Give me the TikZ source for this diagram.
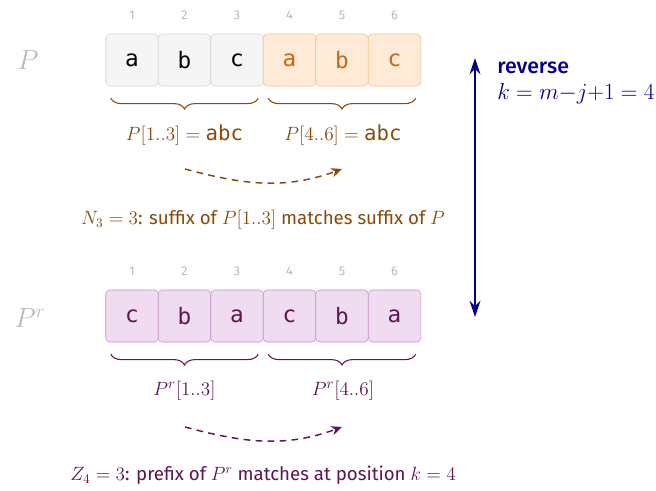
\documentclass[tikz,border=0pt]{standalone}
\usepackage{fontspec}
\setmainfont{Fira Sans}
\setmonofont{DejaVu Sans Mono}
\newfontfamily\medfont{Fira Sans Medium}
\usetikzlibrary{positioning, arrows.meta, decorations.pathreplacing}
\definecolor{CellGray}{RGB}{245,245,245}
\definecolor{CellGrayLine}{RGB}{212,212,212}
\definecolor{CellOrange}{RGB}{254,234,214}
\definecolor{CellOrangeLine}{RGB}{250,192,130}
\definecolor{OrangeText}{RGB}{196,104,20}
\definecolor{BraceBrown}{RGB}{135,74,10}
\definecolor{CellPurple}{RGB}{240,220,240}
\definecolor{CellPurpleLine}{RGB}{200,140,200}
\definecolor{PurpleText}{RGB}{95,20,85}
\definecolor{IndexGray}{RGB}{185,185,185}
\definecolor{RevBlue}{RGB}{0,0,140}

\begin{document}
\begin{tikzpicture}[x=0.75pt, y=-0.75pt, font=\fontsize{14}{16}\selectfont]
    \tikzset{
        cell/.style={rectangle, rounded corners=3pt, minimum width=39.4pt,
            minimum height=39pt, inner sep=0pt, font=\fontsize{17}{19}\selectfont\ttfamily},
        graycell/.style={cell, draw=CellGrayLine, fill=CellGray, text=black},
        orangecell/.style={cell, draw=CellOrangeLine, fill=CellOrange, text=OrangeText},
        purplecell/.style={cell, draw=CellPurpleLine, fill=CellPurple, text=PurpleText},
        index/.style={text=IndexGray, font=\fontsize{9.5}{11}\selectfont},
        rowname/.style={text=IndexGray, font=\fontsize{20}{22}\selectfont},
        curly/.style={thick, decorate, decoration={brace, mirror, amplitude=8pt}},
        part/.style={font=\fontsize{15.5}{18}\selectfont},
        hop/.style={line width=1.1pt, dash pattern=on 5pt off 4pt, -{Stealth[length=8pt, width=7pt]}},
        revarrow/.style={line width=2.2pt, {Stealth[length=12pt, width=8pt]}-{Stealth[length=12pt, width=8pt]}},
        revtext/.style={text=RevBlue, anchor=west, inner sep=0pt}
    }
    \useasboundingbox (0,0) rectangle (656,490);
    % pattern P
    \node[rowname] (pname) at (28,60) {$P$};
    \node[graycell] (p1) at (132,60) {a};
    \node[graycell] (p2) at (184.5,60) {b};
    \node[graycell] (p3) at (237,60) {c};
    \node[orangecell] (p4) at (289.5,60) {a};
    \node[orangecell] (p5) at (342,60) {b};
    \node[orangecell] (p6) at (394.5,60) {c};
    \node[index] (i1) at (132,15) {1};
    \node[index] (i2) at (184.5,15) {2};
    \node[index] (i3) at (237,15) {3};
    \node[index] (i4) at (289.5,15) {4};
    \node[index] (i5) at (342,15) {5};
    \node[index] (i6) at (394.5,15) {6};
    \draw[curly, BraceBrown] ([xshift=4pt, yshift=-9pt]p1.south west) -- ([xshift=-4pt, yshift=-9pt]p3.south east);
    \draw[curly, BraceBrown] ([xshift=4pt, yshift=-9pt]p4.south west) -- ([xshift=-4pt, yshift=-9pt]p6.south east);
    \node[part, text=BraceBrown] (pleft) at (184.5,135) {$P[1..3] = \mbox{\ttfamily abc}$};
    \node[part, text=BraceBrown] (pright) at (343,135) {$P[4..6] = \mbox{\ttfamily abc}$};
    \coordinate (hopa) at (185,169);
    \coordinate (hopb) at (342,169);
    \draw[hop, BraceBrown] (hopa) to[out=-15, in=200] (hopb);
    \node[text=BraceBrown] (nnote) at (263,220)
        {$N_3 = 3$: suffix of $P[1..3]$ matches suffix of $P$};
    % reversed pattern
    \node[rowname] (rname) at (30,318) {$P^r$};
    \node[purplecell] (r1) at (132,316) {c};
    \node[purplecell] (r2) at (184.5,316) {b};
    \node[purplecell] (r3) at (237,316) {a};
    \node[purplecell] (r4) at (289.5,316) {c};
    \node[purplecell] (r5) at (342,316) {b};
    \node[purplecell] (r6) at (394.5,316) {a};
    \node[index] (j1) at (132,271) {1};
    \node[index] (j2) at (184.5,271) {2};
    \node[index] (j3) at (237,271) {3};
    \node[index] (j4) at (289.5,271) {4};
    \node[index] (j5) at (342,271) {5};
    \node[index] (j6) at (394.5,271) {6};
    \draw[curly, PurpleText] ([xshift=4pt, yshift=-9pt]r1.south west) -- ([xshift=-4pt, yshift=-9pt]r3.south east);
    \draw[curly, PurpleText] ([xshift=4pt, yshift=-9pt]r4.south west) -- ([xshift=-4pt, yshift=-9pt]r6.south east);
    \node[part, text=PurpleText] (rleft) at (184.5,391) {$P^r[1..3]$};
    \node[part, text=PurpleText] (rright) at (343,391) {$P^r[4..6]$};
    \coordinate (hopc) at (185,427);
    \coordinate (hopd) at (342,427);
    \draw[hop, PurpleText] (hopc) to[out=-15, in=200] (hopd);
    \node[text=PurpleText] (znote) at (263,475)
        {$Z_4 = 3$: prefix of $P^r$ matches at position $k = 4$};
    % reverse arrow
    \coordinate (revtop) at (475,58);
    \coordinate (revbot) at (475,317);
    \draw[revarrow, RevBlue] (revtop) -- (revbot);
    \node[revtext, font=\fontsize{16}{18}\selectfont\medfont] (revword) at (497,68) {reverse};
    \node[revtext, font=\fontsize{16.5}{19}\selectfont] (revmath) at (497,94) {$k = m{-}j{+}1 = 4$};
\end{tikzpicture}
\end{document}
